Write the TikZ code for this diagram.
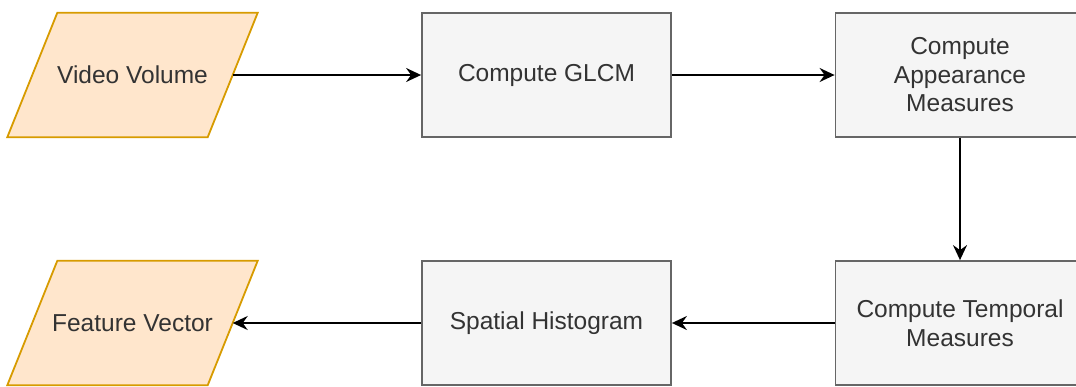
\documentclass[tikz,border=0pt]{standalone}
\usepackage{fontspec}
\setmainfont{Liberation Sans}
\usetikzlibrary{arrows.meta,calc}
\pgfdeclarelayer{background}
\pgfsetlayers{background,main}
\definecolor{ioFill}{HTML}{FFE6CC}
\definecolor{ioLine}{HTML}{D79B00}
\definecolor{stepFill}{HTML}{F5F5F5}
\definecolor{stepLine}{HTML}{666666}
\definecolor{stepText}{HTML}{333333}
\begin{document}
\begin{tikzpicture}[x=1pt,y=-1pt,
  font=\fontsize{24.5}{28.5}\selectfont,
  stepbox/.style={draw=stepLine, fill=stepFill, text=stepText, line width=1.8pt,
    minimum width=249, minimum height=124, align=center, inner sep=0pt},
  iobox/.style={minimum width=200, minimum height=124, align=center, inner sep=0pt, text=stepText},
  ioshape/.style={draw=ioLine, fill=ioFill, line width=1.8pt, line join=miter},
  flow/.style={draw=black, line width=1.9pt, -{Stealth[length=15pt,width=14pt,inset=5pt]}}]
\useasboundingbox (0,0) rectangle (1076,386);
\clip (0,0) rectangle (1076,386);

% process steps
\node[iobox]   (vv)  at (132.5,75)  {Video Volume};
\node[stepbox] (glcm) at (546.5,75) {Compute GLCM};
\node[stepbox] (app)  at (960,75)   {Compute\\Appearance\\Measures};
\node[stepbox] (tmp)  at (960,323)  {Compute Temporal\\Measures};
\node[stepbox] (sh)   at (546.5,323) {Spatial Histogram};
\node[iobox]   (fv)  at (132.5,323) {Feature Vector};

% input/output parallelograms behind their labels
\begin{pgfonlayer}{background}
\foreach \n in {vv,fv}
  \draw[ioshape] ($(\n.north west)+(25,0)$) -- ($(\n.north east)+(25,0)$)
    -- ($(\n.south east)+(-25,0)$) -- ($(\n.south west)+(-25,0)$) -- cycle;
\end{pgfonlayer}

% connectors
\draw[flow] (vv) -- (glcm);
\draw[flow] (glcm) -- (app);
\draw[flow] (app) -- (tmp);
\draw[flow] (tmp) -- (sh);
\draw[flow] (sh) -- (fv);
\end{tikzpicture}
\end{document}
